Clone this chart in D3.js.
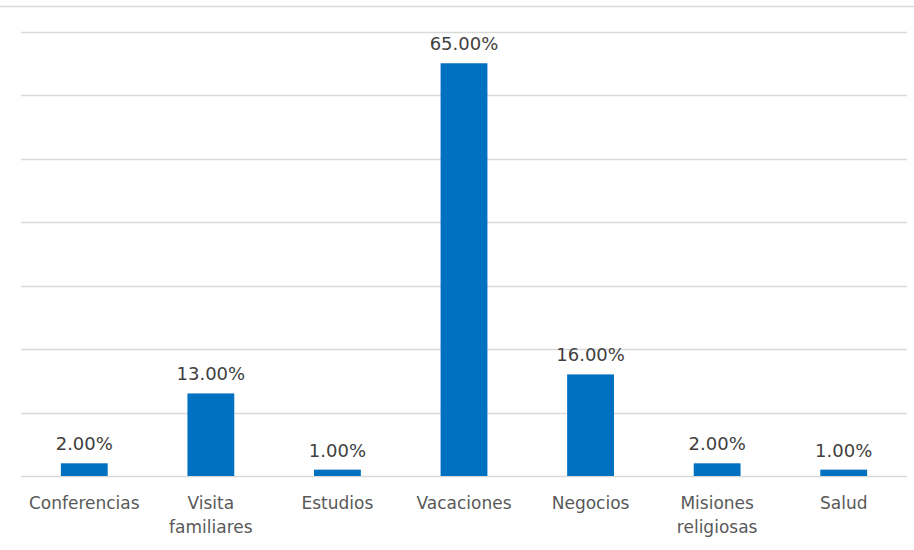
<!DOCTYPE html>
<html lang="es">
<head>
    <meta charset="UTF-8">
    <title>Motivo de viaje</title>
    <script src="https://d3js.org/d3.v7.min.js"></script>
    <style>
        body { margin: 0; background: #fff; }
        svg { display: block; font-family: "DejaVu Sans", Verdana, sans-serif; }
        .grid line { stroke: #d9d9d9; stroke-width: 1.3; }
        .bar { fill: #0070c0; }
        .val { fill: #404040; font-size: 18px; }
        .cat { fill: #595959; font-size: 17px; }
    </style>
</head>
<body>
    <svg id="chart" width="914" height="550"></svg>
    <script>
        // datos
        const categories = ["Conferencias", "Visita familiares", "Estudios", "Vacaciones", "Negocios", "Misiones religiosas", "Salud"];
        const values = [2, 13, 1, 65, 16, 2, 1];
        const yTicks = [0, 10, 20, 30, 40, 50, 60, 70];

        const svg = d3.select("#chart"),
              width = +svg.attr("width"),
              height = +svg.attr("height");
        const margin = { top: 31.5, right: 7, bottom: 74, left: 21 };

        const x = d3.scaleBand()
            .domain(categories)
            .range([margin.left, width - margin.right])
            .paddingInner(0.63)
            .paddingOuter(0.315);

        const y = d3.scaleLinear()
            .domain([0, 70])
            .range([height - margin.bottom, margin.top]);

        // borde superior
        svg.append("line")
            .attr("x1", 0).attr("x2", width)
            .attr("y1", 6.5).attr("y2", 6.5)
            .attr("stroke", "#d9d9d9").attr("stroke-width", 1.3);

        // líneas de cuadrícula
        svg.append("g").attr("class", "grid")
            .selectAll("line")
            .data(yTicks)
            .join("line")
            .attr("x1", margin.left)
            .attr("x2", width - margin.right)
            .attr("y1", d => Math.round(y(d)) + 0.5)
            .attr("y2", d => Math.round(y(d)) + 0.5);

        // barras
        svg.append("g")
            .selectAll("rect")
            .data(values)
            .join("rect")
            .attr("class", "bar")
            .attr("x", (d, i) => x(categories[i]))
            .attr("width", x.bandwidth())
            .attr("y", d => y(d))
            .attr("height", d => y(0) - y(d));

        // etiquetas de valor
        svg.append("g")
            .selectAll("text")
            .data(values)
            .join("text")
            .attr("class", "val")
            .attr("text-anchor", "middle")
            .attr("x", (d, i) => x(categories[i]) + x.bandwidth() / 2)
            .attr("y", d => y(d) - 13)
            .text(d => d.toFixed(2) + "%");

        // etiquetas de categoría (con salto de línea)
        const cat = svg.append("g")
            .selectAll("text")
            .data(categories)
            .join("text")
            .attr("class", "cat")
            .attr("text-anchor", "middle")
            .attr("x", d => x(d) + x.bandwidth() / 2)
            .attr("y", 509);

        cat.each(function(d) {
            const words = d.split(" ");
            const t = d3.select(this);
            words.forEach((w, i) => {
                t.append("tspan")
                    .attr("x", x(d) + x.bandwidth() / 2)
                    .attr("dy", i === 0 ? 0 : 24)
                    .text(w);
            });
        });
    </script>
</body>
</html>
